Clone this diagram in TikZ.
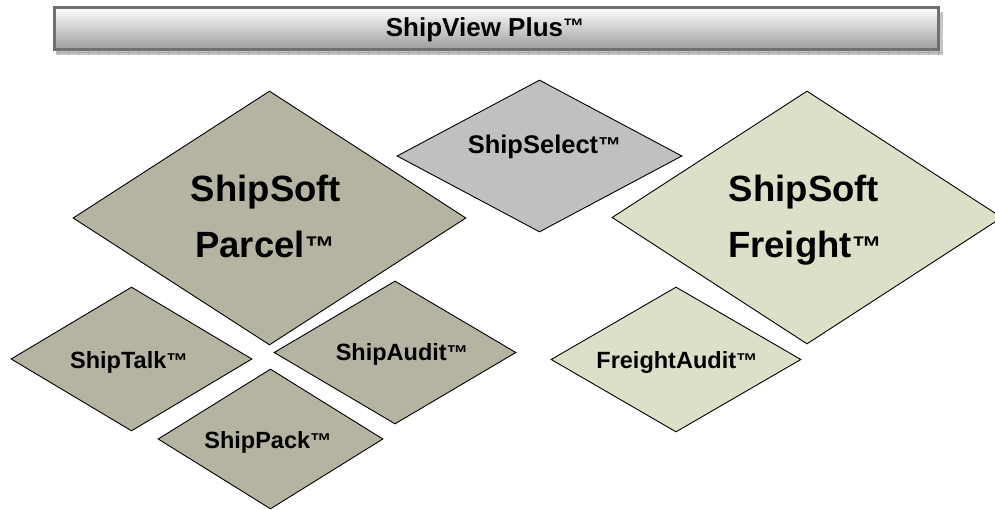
\documentclass[tikz,border=0pt]{standalone}
\usepackage{fontspec}
\setmainfont{Liberation Sans}
\usetikzlibrary{shapes.geometric}
\definecolor{parcelc}{HTML}{B5B3A1}
\definecolor{selectc}{HTML}{C0C0C0}
\definecolor{freightc}{HTML}{DEDFC8}
\definecolor{barborder}{HTML}{707070}
\definecolor{barbottom}{HTML}{9C9C9C}
\definecolor{shadowc}{HTML}{C6C6C6}
\definecolor{tickc}{HTML}{A6A6A6}
\newcommand\TMk[2]{\raisebox{#2}{\fontsize{#1}{#1}\selectfont ™}}
\tikzset{
  dia/.style={diamond, draw=black, line width=0.9pt, inner sep=0pt, aspect=1.6},
  lbl/.style={inner sep=0pt, anchor=base, text=black, font=\bfseries\fontsize{23.5pt}{23.5pt}\selectfont},
  biglbl/.style={lbl, font=\bfseries\fontsize{36.5pt}{36.5pt}\selectfont},
  midlbl/.style={lbl, font=\bfseries\fontsize{25.5pt}{25.5pt}\selectfont},
  titlelbl/.style={lbl, font=\bfseries\fontsize{26pt}{26pt}\selectfont},
  titlebar/.style={draw=barborder, line width=3pt, top color=white, bottom color=barbottom, inner sep=0pt}
}
\begin{document}
\begin{tikzpicture}[x=1pt,y=-1pt]
\useasboundingbox (0,0) rectangle (995,510);
\clip (0,0) rectangle (995,510);
% title bar shadow
\fill[shadowc] (56,12) rectangle (943,55);
\draw[tickc, line width=0.5pt] (56,52.5) -- (943,52.5);
\foreach \x in {58,68,...,944} \draw[tickc, line width=0.5pt] (\x,50) -- (\x,55);
% title bar
\node[titlebar, minimum width=884pt, minimum height=42pt] (bar) at (496.5,28.5) {};
\node[titlelbl] (title) at (485,37) {ShipView Plus\TMk{21pt}{3pt}};
% diamonds
\node[dia, fill=parcelc, minimum width=393pt, minimum height=254pt] (parcel) at (269.5,218) {};
\node[dia, fill=selectc, minimum width=285pt, minimum height=152pt] (select) at (539.5,156) {};
\node[dia, fill=freightc, minimum width=390pt, minimum height=253pt] (freight) at (807,217.5) {};
\node[dia, fill=parcelc, minimum width=241pt, minimum height=144pt] (talk) at (131.5,359) {};
\node[dia, fill=parcelc, minimum width=242pt, minimum height=143pt] (audit) at (395,352.5) {};
\node[dia, fill=parcelc, minimum width=225pt, minimum height=140pt] (pack) at (270.5,439) {};
\node[dia, fill=freightc, minimum width=250pt, minimum height=145pt] (faudit) at (676,359.5) {};
% labels
\node[biglbl] (parcelA) at (266,202) {ShipSoft};
\node[biglbl] (parcelB) at (265,258) {Parcel\TMk{30pt}{0pt}};
\node[biglbl] (freightA) at (804,202) {ShipSoft};
\node[biglbl] (freightB) at (805,258) {Freight\TMk{30pt}{0pt}};
\node[midlbl] (selectT) at (544.5,154) {ShipSelect\TMk{23pt}{0pt}};
\node[lbl] (talkT) at (129,368) {ShipTalk\TMk{21.5pt}{0pt}};
\node[lbl] (auditT) at (402,360) {ShipAudit\TMk{21.5pt}{0pt}};
\node[lbl] (packT) at (268,448) {ShipPack\TMk{21.5pt}{0pt}};
\node[lbl] (fauditT) at (677,368) {FreightAudit\TMk{21.5pt}{0pt}};
\end{tikzpicture}
\end{document}
